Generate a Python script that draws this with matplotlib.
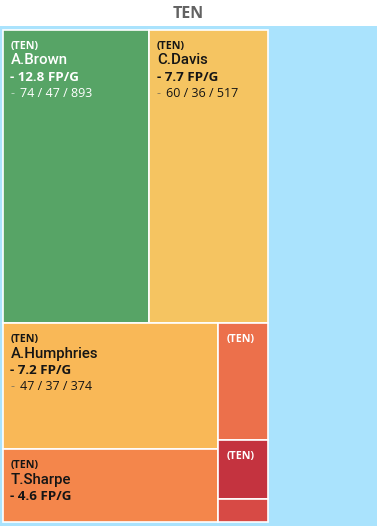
import matplotlib.pyplot as plt
from matplotlib.patches import Rectangle

team = "TEN"
names = ["A.Brown", "C.Davis", "A.Humphries", "T.Sharpe", "", "", ""]
targets = [74, 60, 47, 27, 10, 5, 2]
receptions = [47, 36, 37, None, None, None, None]
yards = [893, 517, 374, None, None, None, None]
fp_per_game = [12.8, 7.7, 7.2, 4.6, None, None, None]
colors = ["#57a466", "#f5c461", "#f9b857", "#f4864b", "#ec704b", "#c4333f", "#d74a45"]
dark_box = [True, False, False, False, True, True, False]
show_team = [True, True, True, True, True, True, False]
# boxes grouped in two rows, the second row split into two columns
groups = [[0, 1], [[2, 3], [4, 5, 6]]]

plt.rcParams['font.family'] = ['Open Sans', 'DejaVu Sans']


def total(g):
    if isinstance(g, int):
        return targets[g]
    return sum(total(i) for i in g)


def layout(g, x, y, w, h, vertical, out):
    if isinstance(g, int):
        out[g] = (x, y, w, h)
        return
    s = total(g)
    for item in g:
        f = total(item) / s
        if vertical:
            layout(item, x, y, w, h * f, not vertical, out)
            y += h * f
        else:
            layout(item, x, y, w * f, h, not vertical, out)
            x += w * f


fig = plt.figure(figsize=(3.77, 5.26), dpi=100)
ax = fig.add_axes([0, 0, 1, 1])
ax.set_xlim(0, 377)
ax.set_ylim(526, 0)
ax.axis("off")

ax.add_patch(Rectangle((0, 26), 377, 500, facecolor="#aae3fd", edgecolor="none"))
ax.text(188.5, 14, team, ha="center", va="center", fontsize=11.5,
        fontweight="bold", color="#626262")

boxes = {}
layout(groups, 3, 30, 265, 492, True, boxes)

for i in range(len(targets)):
    x, y, w, h = boxes[i]
    ax.add_patch(Rectangle((x, y), w, h, facecolor=colors[i],
                           edgecolor="white", linewidth=1.2))
    tc = "white" if dark_box[i] else "#151515"
    tx = x + 7.5
    if show_team[i]:
        ax.text(tx + (1 if not names[i] else 0), y + 19, "(" + team + ")",
                fontsize=7.7, fontweight="bold", color=tc, va="baseline")
    if names[i]:
        ax.text(tx, y + 34.5, names[i], fontsize=10.8, fontweight="medium",
                family=["Roboto", "DejaVu Sans"], color=tc, va="baseline")
    if fp_per_game[i] is not None:
        ax.text(tx, y + 51, "- %.1f FP/G" % fp_per_game[i], fontsize=9.6,
                fontweight="bold", color=tc, va="baseline")
    if yards[i] is not None:
        dash_c = "#bcd9c2" if dark_box[i] else "#8a7a5a"
        ax.text(tx, y + 67, "-", fontsize=9, color=dash_c, va="baseline")
        ax.text(tx + 9, y + 67, "%d / %d / %d" % (targets[i], receptions[i], yards[i]),
                fontsize=9, color=tc, va="baseline")

fig.savefig("out.png", dpi=100)
